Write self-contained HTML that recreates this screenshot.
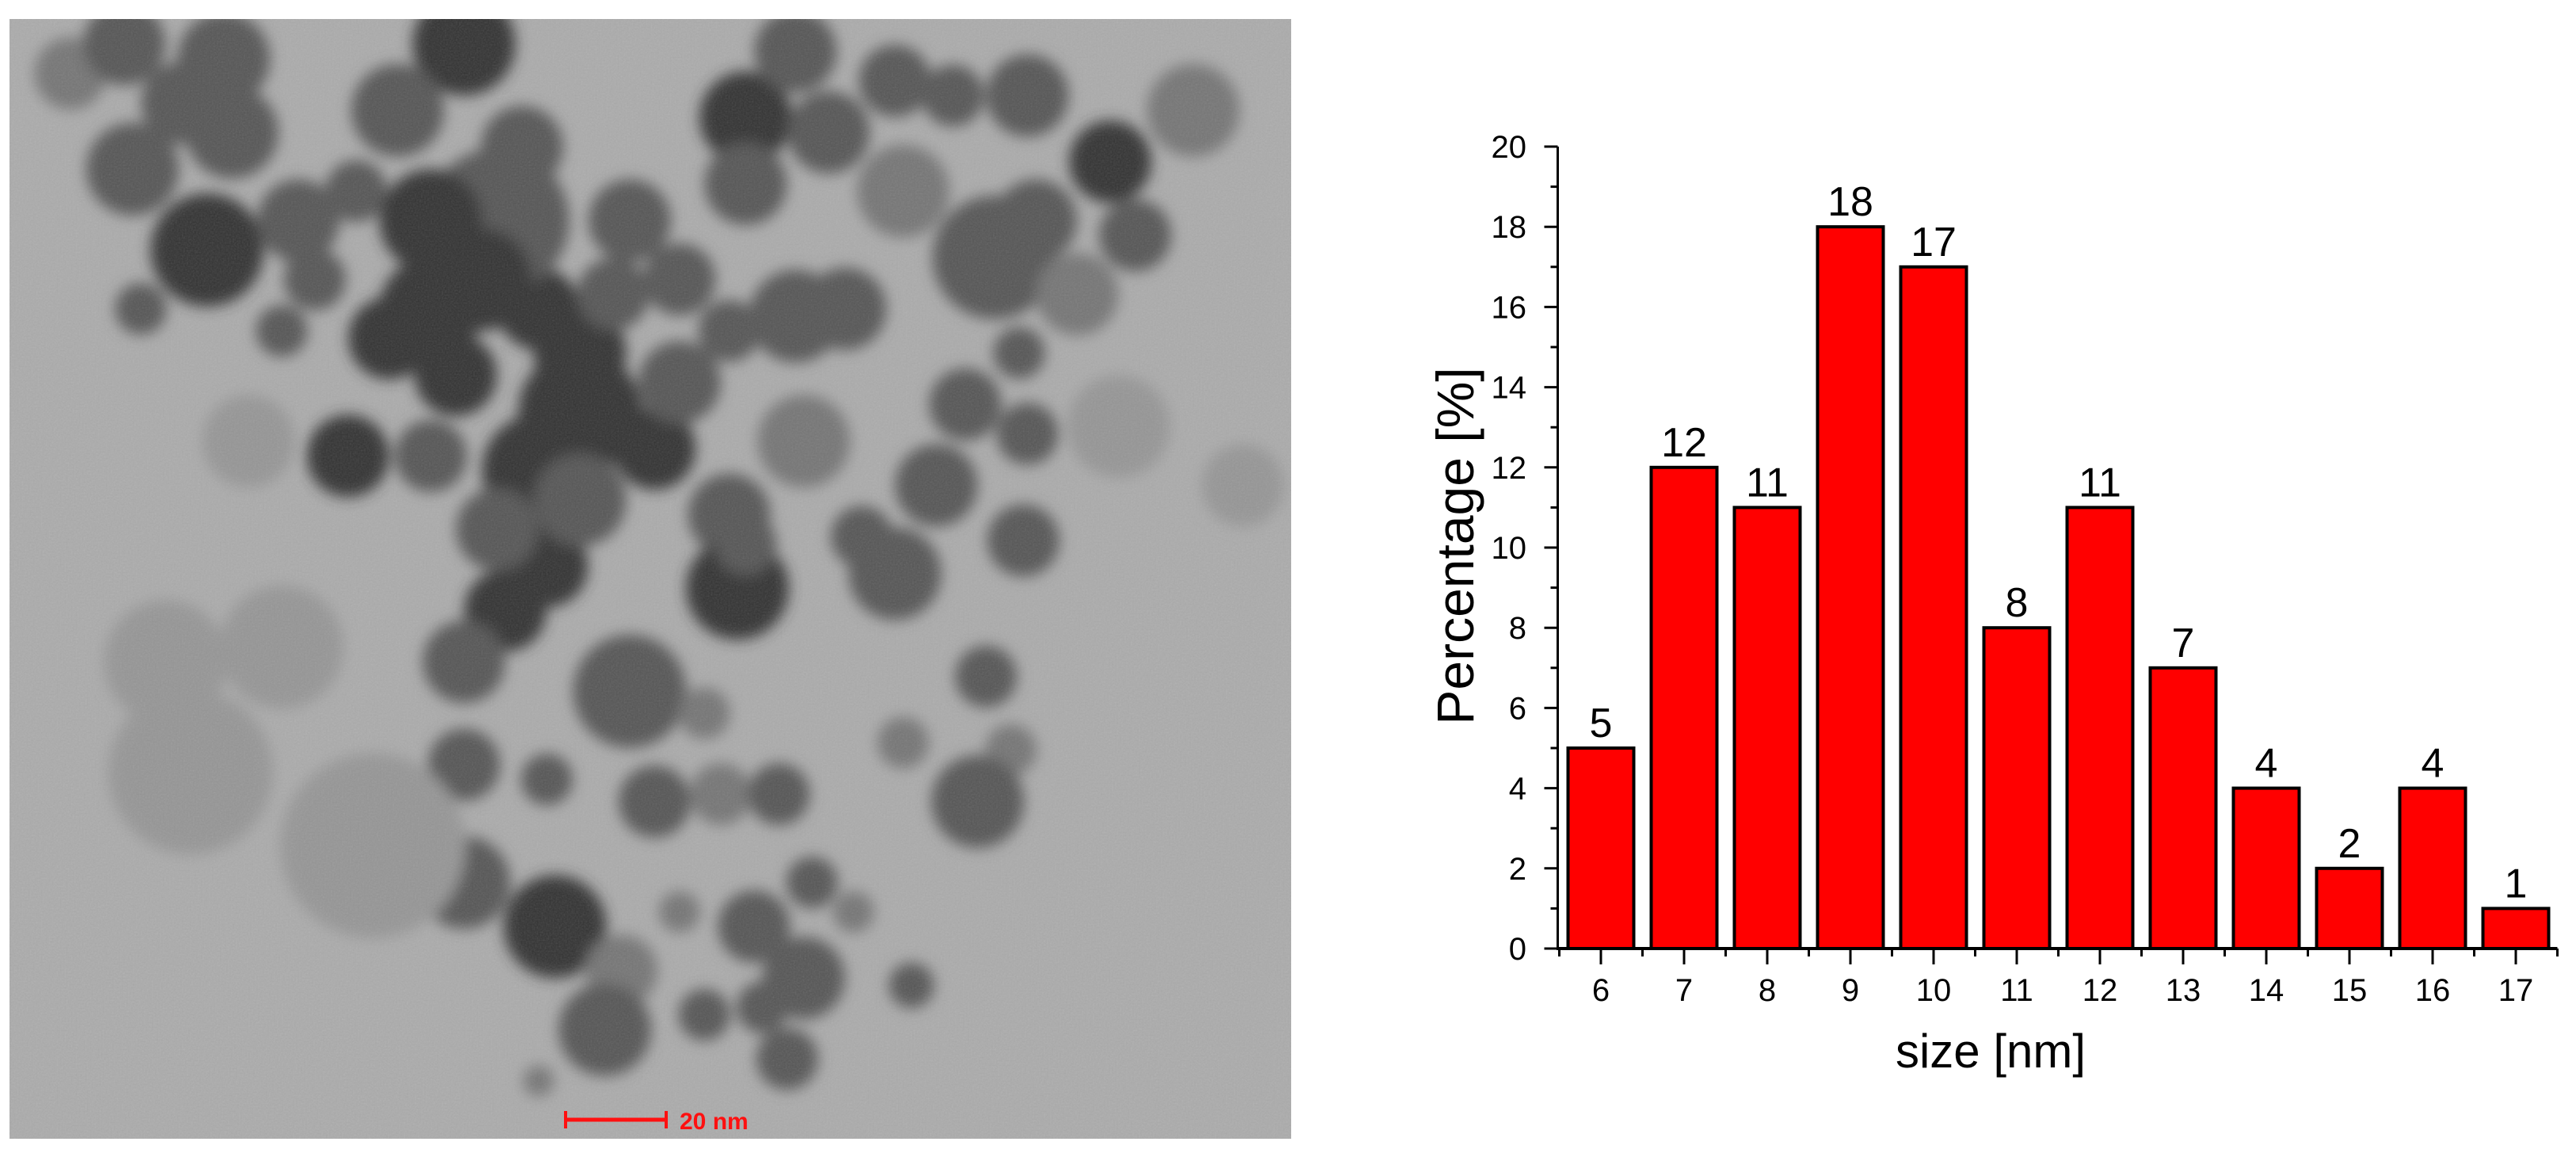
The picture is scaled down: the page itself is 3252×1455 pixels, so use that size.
<!DOCTYPE html>
<html><head><meta charset="utf-8"><style>
html,body{margin:0;padding:0;background:#fff;}
svg{display:block;font-family:"Liberation Sans",sans-serif;}
</style></head><body>
<svg id="root" width="3252" height="1455" viewBox="0 0 3252 1455" xmlns="http://www.w3.org/2000/svg">
<defs>
<filter id="blur" x="-50%" y="-50%" width="200%" height="200%"><feGaussianBlur stdDeviation="9"/></filter>
<filter id="noise"><feTurbulence type="fractalNoise" baseFrequency="0.5" numOctaves="1" seed="3"/><feColorMatrix type="saturate" values="0"/><feComponentTransfer><feFuncA type="linear" slope="0.18"/></feComponentTransfer></filter>
<clipPath id="temclip"><rect x="12" y="24" width="1618" height="1413"/></clipPath>
</defs>
<g>
<rect x="12" y="24" width="1618" height="1413" fill="#ababab"/>
<g id="blobs" clip-path="url(#temclip)" filter="url(#blur)"></g>
<rect x="12" y="24" width="1618" height="1413" filter="url(#noise)" clip-path="url(#temclip)"/>
<g>
<line x1="712" y1="1413" x2="843" y2="1413" stroke="#ff1010" stroke-width="5"/>
<line x1="714" y1="1402" x2="714" y2="1424" stroke="#ff1010" stroke-width="4"/>
<line x1="841" y1="1402" x2="841" y2="1424" stroke="#ff1010" stroke-width="4"/>
<text x="858" y="1425" font-size="30" font-weight="bold" fill="#ff1010">20 nm</text>
</g>
</g>
<g id="chart"></g>
</svg>
<script>
var categories=[6,7,8,9,10,11,12,13,14,15,16,17];
var values=[5,12,11,18,17,8,11,7,4,2,4,1];
var yTicks=[0,2,4,6,8,10,12,14,16,18,20];
var NS="http://www.w3.org/2000/svg";
function mk(t,a,p){var e=document.createElementNS(NS,t);for(var k in a)e.setAttribute(k,a[k]);p.appendChild(e);return e;}
var bl=[[85,100,35,2],[150,60,40,1],[270,80,45,1],[280,180,45,1],[160,230,45,1],[250,340,55,0],[170,420,25,1],[340,450,25,1],[380,380,30,1],[430,260,30,1],[420,620,40,0],[470,460,40,0],[520,420,50,0],[550,510,40,0],[560,60,50,0],[480,150,45,1],[630,200,40,1],[650,640,55,0],[700,480,45,0],[650,420,40,0],[740,400,35,1],[790,610,40,0],[760,300,40,1],[900,160,45,0],[900,250,40,1],[960,70,40,1],[1080,110,35,1],[1090,260,45,2],[1150,130,30,1],[1240,130,40,1],[1200,350,60,1],[1250,300,40,1],[1340,220,40,0],[1370,320,35,1],[1440,150,45,2],[1230,480,25,1],[1165,550,35,1],[1240,590,30,1],[1130,660,40,1],[970,600,45,2],[880,700,40,1],[890,800,50,0],[1080,780,45,1],[1040,730,30,1],[960,430,45,1],[880,450,30,1],[1020,420,40,1],[1235,735,35,1],[1190,920,30,1],[1090,1010,25,2],[1220,1020,25,2],[1180,1090,45,1],[900,740,30,1],[660,770,40,0],[610,830,40,0],[560,900,40,1],[760,940,55,1],[850,970,25,2],[560,1040,35,1],[660,1060,25,1],[790,1090,35,1],[870,1080,30,2],[940,1080,30,1],[250,1100,30,1],[560,1200,45,1],[670,1260,50,0],[750,1320,35,2],[730,1400,45,1],[850,1380,25,1],[910,1260,35,1],[980,1200,25,1],[970,1330,40,1],[1030,1240,20,2],[1100,1340,22,1],[920,1370,25,1],[950,1440,30,1],[820,1240,20,2],[650,1470,15,2],[340,880,60,3],[300,600,45,3],[200,900,60,3],[1350,580,50,3],[1500,660,40,3],[600,300,70,1],[700,560,60,0],[230,1050,80,3],[450,1150,90,3],[520,300,50,0],[580,380,50,0],[700,680,45,1],[820,520,40,1],[360,300,40,1],[220,140,40,1],[1000,180,40,1],[820,380,35,1],[1300,400,40,2],[600,720,40,1],[520,620,35,1]];
var shades=["#333","#555","#747474","#959595"];
var bg=document.getElementById('blobs');
bl.forEach(function(b){var c=mk('circle',{cx:b[0]*1.046,cy:b[1]*0.928,r:b[2]*1.3,fill:shades[b[3]]},bg);

});
var g=document.getElementById('chart');
var x0=2021,pitch=105,y0=1197,yU=(1197-185)/20,bw=83;
function xs(v){return x0+(v-6)*pitch;}
function ys(v){return y0-v*yU;}
var xL=xs(5.5)-3,xR=xs(17.5);
values.forEach(function(v,i){var c=categories[i];
var r=mk('rect',{x:xs(c)-bw/2,y:ys(v),width:bw,height:y0-ys(v),fill:"#ff0000",stroke:"#000","stroke-width":4},g);


var t=mk('text',{x:xs(c),y:ys(v)-14,"font-size":52,"text-anchor":"middle",fill:"#000"},g);t.textContent=v;


});
var ax=mk('line',{x1:xL,y1:y0,x2:xR,y2:y0,stroke:"#000","stroke-width":4},g);


var ay=mk('line',{x1:xL+1,y1:y0+2,x2:xL+1,y2:ys(20),stroke:"#000","stroke-width":3},g);


for(var v=0;v<=20;v++){var maj=v%2==0;
mk('line',{x1:xL+1-(maj?17:9),y1:ys(v),x2:xL+1,y2:ys(v),stroke:"#000","stroke-width":3},g);}
yTicks.forEach(function(v){var t=mk('text',{x:1927,y:ys(v)+14,"font-size":40,"text-anchor":"end",fill:"#000"},g);t.textContent=v;

});
categories.forEach(function(c){
mk('line',{x1:xs(c),y1:y0,x2:xs(c),y2:y0+20,stroke:"#000","stroke-width":3},g);
mk('line',{x1:xs(c+0.5),y1:y0,x2:xs(c+0.5),y2:y0+10,stroke:"#000","stroke-width":3},g);
var t=mk('text',{x:xs(c),y:1263,"font-size":40,"text-anchor":"middle",fill:"#000"},g);t.textContent=c;

});
mk('line',{x1:xs(5.5),y1:y0,x2:xs(5.5),y2:y0+10,stroke:"#000","stroke-width":3},g);
var xt=mk('text',{x:2513,y:1347,"font-size":60,"text-anchor":"middle",fill:"#000"},g);xt.textContent="size [nm]";


var yt=mk('text',{x:0,y:0,"font-size":66,"text-anchor":"middle",fill:"#000",transform:"translate(1860,689) rotate(-90)"},g);yt.textContent="Percentage [%]";


</script>
</body></html>
